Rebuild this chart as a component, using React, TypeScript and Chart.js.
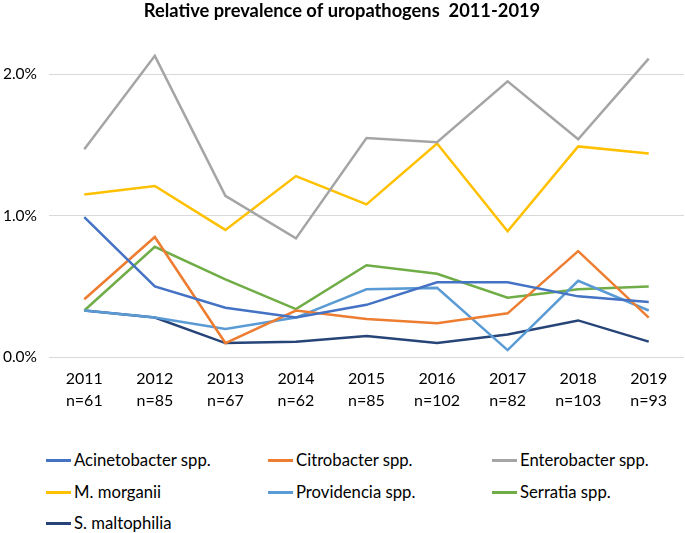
import React, { useEffect, useRef } from "react";
import { Chart, registerables } from "chart.js";

Chart.register(...registerables);

const years = ["2011", "2012", "2013", "2014", "2015", "2016", "2017", "2018", "2019"];
const counts = ["n=61", "n=85", "n=67", "n=62", "n=85", "n=102", "n=82", "n=103", "n=93"];

const acinetobacter = [0.99, 0.5, 0.35, 0.28, 0.37, 0.53, 0.53, 0.43, 0.39];
const citrobacter = [0.41, 0.85, 0.1, 0.33, 0.27, 0.24, 0.31, 0.75, 0.28];
const enterobacter = [1.47, 2.13, 1.14, 0.84, 1.55, 1.52, 1.95, 1.54, 2.11];
const morganii = [1.15, 1.21, 0.9, 1.28, 1.08, 1.51, 0.89, 1.49, 1.44];
const providencia = [0.33, 0.28, 0.2, 0.28, 0.48, 0.49, 0.05, 0.54, 0.33];
const serratia = [0.33, 0.78, 0.55, 0.34, 0.65, 0.59, 0.42, 0.48, 0.5];
const maltophilia = [0.33, 0.28, 0.1, 0.11, 0.15, 0.1, 0.16, 0.26, 0.11];

const seriesNames = [
  "Acinetobacter spp.",
  "Citrobacter spp.",
  "Enterobacter spp.",
  "M. morganii",
  "Providencia spp.",
  "Serratia spp.",
  "S. maltophilia",
];
const seriesData = [acinetobacter, citrobacter, enterobacter, morganii, providencia, serratia, maltophilia];
const seriesColors = ["#4472C4", "#ED7D31", "#A5A5A5", "#FFC000", "#5B9BD5", "#70AD47", "#264478"];

const FONT = "Lato, 'Open Sans', sans-serif";

export default function App() {
  const ref = useRef<HTMLCanvasElement | null>(null);

  useEffect(() => {
    document.body.style.margin = "0";
    if (!ref.current) return;
    const chart = new Chart(ref.current, {
      type: "line",
      data: {
        labels: years.map((y, i) => [y, counts[i]]),
        datasets: seriesNames.map((name, i) => ({
          label: name,
          data: seriesData[i],
          borderColor: seriesColors[i],
          backgroundColor: seriesColors[i],
          borderWidth: 2.5,
          pointRadius: 0,
          tension: 0,
        })),
      },
      options: {
        animation: false,
        responsive: false,
        maintainAspectRatio: false,
        layout: { padding: { top: 0, right: 1, left: 0, bottom: 0 } },
        plugins: {
          legend: { display: false },
          tooltip: { enabled: false },
          title: {
            display: true,
            text: "Relative prevalence of uropathogens  2011-2019",
            color: "#000",
            font: { family: FONT, size: 18.3, weight: "bold" },
            padding: { top: 0, bottom: 24 },
          },
        },
        scales: {
          x: {
            offset: true,
            grid: { display: false, drawTicks: false },
            border: { display: false },
            ticks: {
              color: "#000",
              font: { family: FONT, size: 16, lineHeight: 1.4 },
              padding: 10,
              maxRotation: 0,
              autoSkip: false,
            },
          },
          y: {
            min: 0,
            max: 2.2,
            afterBuildTicks: (axis: any) => {
              axis.ticks = axis.ticks.filter((t: any) => Math.abs(t.value - Math.round(t.value)) < 1e-9);
            },
            afterFit: (axis: any) => {
              axis.width = 49;
            },
            grid: { color: "#D9D9D9", lineWidth: 1, drawTicks: false },
            border: { display: false },
            ticks: {
              stepSize: 1,
              color: "#000",
              font: { family: FONT, size: 15.5 },
              padding: 12,
              callback: (v: any) => Number(v).toFixed(1) + "%",
            },
          },
        },
      },
    });
    return () => chart.destroy();
  }, []);

  const colX = [46, 268, 492];
  const rowY = [460, 492, 523];
  return (
    <div style={{ position: "relative", width: 685, height: 533, background: "#fff", fontFamily: FONT }}>
      <canvas ref={ref} width={685} height={422} style={{ position: "absolute", left: 0, top: 0 }} />
      {seriesNames.map((name, i) => {
        const row = Math.floor(i / 3);
        const col = i % 3;
        return (
          <div
            key={name}
            style={{
              position: "absolute",
              left: colX[col],
              top: rowY[row] - 12,
              height: 24,
              display: "flex",
              alignItems: "center",
              fontSize: 16.7,
              color: "#000",
              whiteSpace: "nowrap",
            }}
          >
            <span style={{ display: "inline-block", width: 25, height: 3, background: seriesColors[i], marginRight: 3 }} />
            <span>{name}</span>
          </div>
        );
      })}
    </div>
  );
}
